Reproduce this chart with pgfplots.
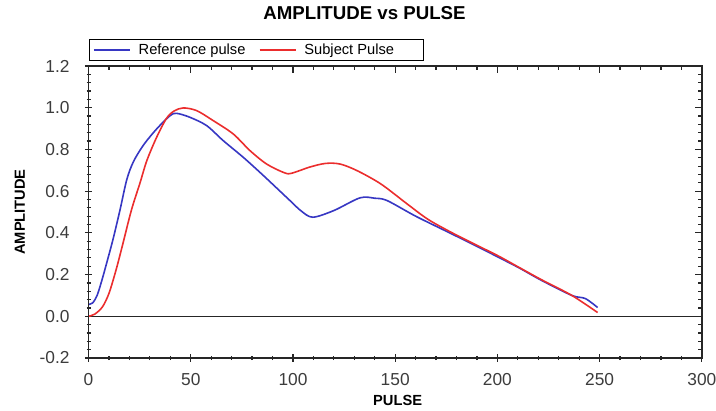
\documentclass[border=0pt]{standalone}
\usepackage{pgfplots}
\pgfplotsset{compat=1.18}
\usepackage{fontspec}
\setmainfont{Liberation Sans}
\definecolor{refblue}{RGB}{55,55,195}
\definecolor{subred}{RGB}{235,45,45}
\definecolor{ticktext}{RGB}{60,60,60}

\pgfplotsset{
  frame/.style={
    scale only axis, width=460pt, height=219pt,
    xmin=0, xmax=300, ymin=-0.2, ymax=1.2,
    xtick={0,50,100,150,200,250,300},
    ytick={-0.2,0,0.2,0.4,0.6,0.8,1.0,1.2},
    minor x tick num=4, minor y tick num=4,
    major tick length=5.5pt, minor tick length=3pt,
    tick style={black!85, line width=0.9pt},
    axis line style={line width=1pt, black!85},
  }
}

\begin{document}
\begin{tikzpicture}
\begin{axis}[
    frame,
    xtick pos=left, ytick pos=left,
    tick align=center,
    /pgf/number format/assume math mode=true,
    y tick label style={xshift=-8pt, /pgf/number format/.cd, fixed, fixed zerofill, precision=1},
    x tick label style={yshift=-5pt},
    every tick label/.append style={font=\fontsize{13}{15}\selectfont, text=ticktext},
    title={AMPLITUDE vs PULSE},
    title style={at={(0.45,1.155)}, anchor=center, font=\bfseries\fontsize{14}{16}\selectfont},
    xlabel={PULSE},
    xlabel style={at={(0.504,-0.144)}, anchor=center, font=\bfseries\fontsize{11}{13}\selectfont},
    ylabel={AMPLITUDE},
    ylabel style={at={(-0.1117,0.5)}, anchor=center, font=\bfseries\fontsize{11}{13}\selectfont},
    legend columns=2,
    legend style={at={(0,1)}, anchor=south west, yshift=3.75pt, draw=black, line width=0.8pt,
      font=\fontsize{11}{13}\selectfont, inner xsep=3pt, inner ysep=1pt,
      /tikz/every even column/.append style={column sep=8pt}},
    legend image code/.code={\draw[#1, line width=1.2pt] (0pt,0pt) -- (27pt,0pt); \path (31pt,0pt);},
]
\addplot[black!85, line width=1pt, forget plot] coordinates {(0,0) (300,0)};

\addplot[refblue, line width=1.2pt, smooth] coordinates {
(0,0.057) (2,0.064) (4.2,0.10) (6.6,0.175) (9,0.26) (12,0.37) (15.4,0.51)
(18.7,0.655) (21.9,0.74) (26.8,0.82) (33.3,0.898) (39.9,0.962) (43.1,0.973)
(49.6,0.954) (57.8,0.914) (65.9,0.842) (75.7,0.762) (85.5,0.675) (98.5,0.555)
(104,0.505) (109.7,0.475) (120,0.507) (132.8,0.568) (140,0.566) (146,0.555)
(160,0.48) (176,0.403) (188,0.345) (200.3,0.284) (211,0.23) (221.6,0.172)
(236.4,0.10) (243,0.085) (249,0.042)};
\addlegendentry{Reference pulse}

\addplot[subred, line width=1.2pt, smooth] coordinates {
(0,0) (3,0.01) (6.8,0.045) (10,0.11) (13.4,0.22) (16.6,0.34) (21,0.51)
(25.2,0.64) (28.5,0.746) (33.3,0.858) (38.2,0.95) (42,0.985) (46.4,0.999)
(52.9,0.986) (61,0.938) (70.8,0.874) (79,0.794) (87.1,0.73) (95.3,0.69)
(99,0.685) (108.4,0.716) (116,0.733) (123,0.73) (131.2,0.699) (142.9,0.635)
(155.8,0.539) (166,0.465) (177.3,0.403) (189,0.345) (200.3,0.29) (211,0.232)
(221.6,0.175) (236.4,0.10) (249,0.018)};
\addlegendentry{Subject Pulse\rule{17pt}{0pt}}
\end{axis}

\begin{axis}[
    frame,
    xtick pos=right, ytick pos=right,
    tick align=inside,
    xticklabels={}, yticklabels={},
]
\end{axis}

\pgfresetboundingbox
\path[use as bounding box] (-66.4pt,-39pt) rectangle ++(537pt,307.5pt);
\end{tikzpicture}
\end{document}
